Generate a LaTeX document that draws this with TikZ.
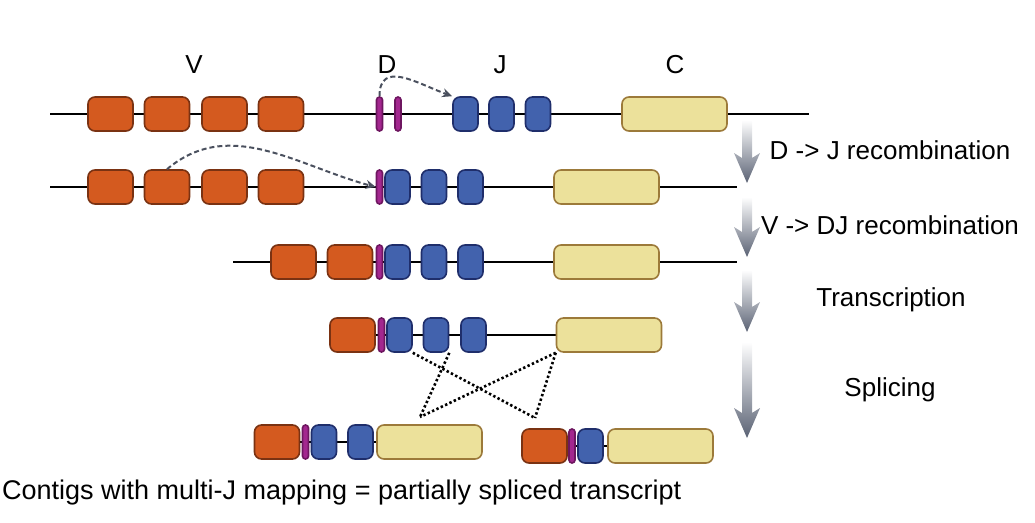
\documentclass[tikz,border=0pt]{standalone}
\usepackage{fontspec}
\setmainfont{Liberation Sans}
\usetikzlibrary{arrows.meta,backgrounds}

\definecolor{vorange}{HTML}{D45A1F}
\definecolor{vborder}{HTML}{7A3212}
\definecolor{dpurple}{HTML}{A3278F}
\definecolor{dborder}{HTML}{6E1660}
\definecolor{jblue}{HTML}{4262AD}
\definecolor{jborder}{HTML}{1F2E6B}
\definecolor{cyellow}{HTML}{ECE19B}
\definecolor{cborder}{HTML}{9C7A3A}
\definecolor{arrowgrey}{HTML}{5A6274}
\definecolor{dashgrey}{HTML}{4A505E}

\tikzset{
  seg/.style={draw, line width=1.6pt, rounded corners=7pt, minimum height=34pt, inner sep=0pt},
  vseg/.style={seg, fill=vorange, draw=vborder, minimum width=45pt},
  dseg/.style={seg, fill=dpurple, draw=dborder, minimum width=6pt, rounded corners=3pt},
  jseg/.style={seg, fill=jblue, draw=jborder, minimum width=25pt},
  cseg/.style={seg, fill=cyellow, draw=cborder, minimum width=105pt},
  backbone/.style={line width=2pt, black},
  recomb/.style={dashgrey, line width=2pt, dash pattern=on 5pt off 3pt, -{Stealth[length=10pt,width=9pt]}},
  splice/.style={black, line width=2.6pt, dash pattern=on 2.4pt off 2.4pt},
  lbl/.style={font=\fontsize{26}{30}\selectfont, inner sep=0pt}
}

\begin{document}
\begin{tikzpicture}[x=1pt, y=-1pt]
  \useasboundingbox (0,0) rectangle (1035,522);

  \node[lbl] (lv) at (194,65) {V};
  \node[lbl] (ld) at (387,65) {D};
  \node[lbl] (lj) at (500,65) {J};
  \node[lbl] (lc) at (675,65) {C};

  % germline
  \coordinate (r1w) at (50,114);
  \coordinate (r1e) at (809,114);
  \foreach \x [count=\i] in {110.5,167,224.5,281}
    \node[vseg] (v1\i) at (\x,114) {};
  \node[dseg] (d1a) at (379.5,114) {};
  \node[dseg] (d1b) at (398,114) {};
  \foreach \x [count=\i] in {465.5,501.5,538}
    \node[jseg] (j1\i) at (\x,114) {};
  \node[cseg] (c1) at (674.5,114) {};

  % DJ
  \coordinate (r2w) at (50,187);
  \coordinate (r2e) at (737,187);
  \foreach \x [count=\i] in {110.5,167,224.5,281}
    \node[vseg] (v2\i) at (\x,187) {};
  \node[dseg] (d2) at (379.5,187) {};
  \foreach \x [count=\i] in {397.5,434,470.5}
    \node[jseg] (j2\i) at (\x,187) {};
  \node[cseg] (c2) at (606.5,187) {};

  % VDJ
  \coordinate (r3w) at (233,262);
  \coordinate (r3e) at (737,262);
  \foreach \x [count=\i] in {293.5,350}
    \node[vseg] (v3\i) at (\x,262) {};
  \node[dseg] (d3) at (379.5,262) {};
  \foreach \x [count=\i] in {397.5,434,470.5}
    \node[jseg] (j3\i) at (\x,262) {};
  \node[cseg] (c3) at (606.5,262) {};

  % transcript
  \node[vseg] (v4) at (352.5,335) {};
  \node[dseg] (d4) at (381.5,335) {};
  \foreach \x [count=\i] in {399.5,436,473.5}
    \node[jseg] (j4\i) at (\x,335) {};
  \node[cseg] (c4) at (609,335) {};

  % spliced
  \node[vseg] (v5l) at (277,442) {};
  \node[dseg] (d5l) at (305.5,442) {};
  \node[jseg] (j5l1) at (324,442) {};
  \node[jseg] (j5l2) at (360.5,442) {};
  \node[cseg] (c5l) at (429.5,442) {};
  \node[vseg] (v5r) at (544.5,446) {};
  \node[dseg] (d5r) at (572,446) {};
  \node[jseg] (j5r) at (590.5,446) {};
  \node[cseg] (c5r) at (660.5,446) {};

  \begin{scope}[on background layer]
    \draw[backbone] (r1w) -- (r1e);
    \draw[backbone] (r2w) -- (r2e);
    \draw[backbone] (r3w) -- (r3e);
    \draw[backbone] (v4.east) -- (c4.west);
    \draw[backbone] (v5l.east) -- (c5l.west);
    \draw[backbone] (v5r.east) -- (c5r.west);
  \end{scope}

  \draw[recomb] (d1a.north) to[out=90,in=160,looseness=1.3] (j11.north west);
  \draw[recomb] (v22.north) to[out=40,in=165] (d2.west);

  \coordinate (sl) at (420,417);
  \coordinate (sr) at (535,418);
  \draw[splice] (j41.south east) -- (sr);
  \draw[splice] (j42.south east) -- (sl);
  \draw[splice] (c4.south west) -- (sl);
  \draw[splice] (c4.south west) -- (sr);

  \foreach \t/\b in {120/183,197/257,270/332,342/438}
    \shade[top color=white, bottom color=arrowgrey]
      (742,\t) -- (752,\t) -- (752,\b-25) -- (760,\b-30) -- (747,\b)
      -- (734,\b-30) -- (742,\b-25) -- cycle;

  \node[lbl] (s1) at (890,150) {D -> J recombination};
  \node[lbl] (s2) at (890,225) {V -> DJ recombination};
  \node[lbl] (s3) at (891,300) {Transcription};
  \node[lbl] (s4) at (890,390) {Splicing};

  \node[anchor=base west, font=\fontsize{27}{30}\selectfont, inner sep=0pt] (note) at (2,499)
    {Contigs with multi-J mapping = partially spliced transcript};
\end{tikzpicture}
\end{document}
